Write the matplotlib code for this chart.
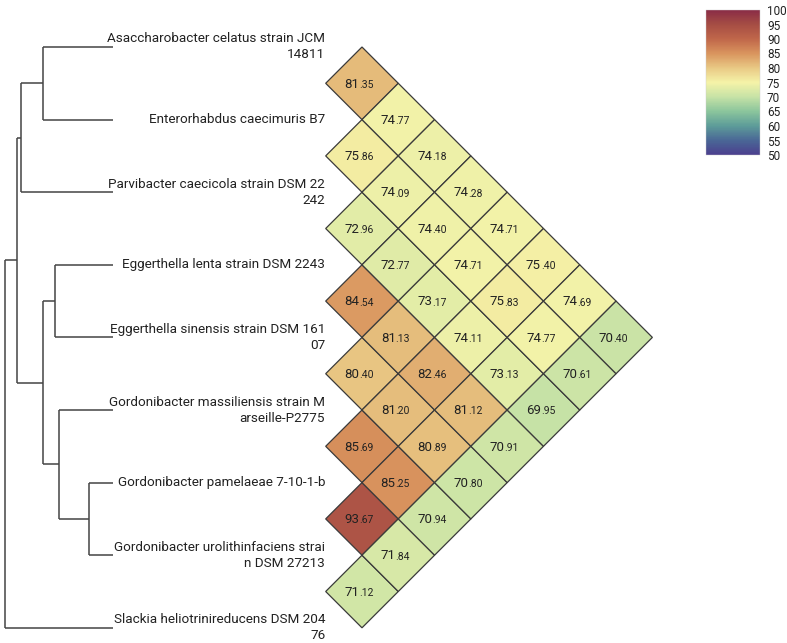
import numpy as np
import matplotlib
matplotlib.use('Agg')
import matplotlib.pyplot as plt
from matplotlib.patches import Polygon
from matplotlib.colors import LinearSegmentedColormap, Normalize
from matplotlib import colorbar

plt.rcParams['font.family'] = ['Roboto', 'DejaVu Sans']

### DATA ###
labels = ['Asaccharobacter celatus strain JCM\n14811',
          'Enterorhabdus caecimuris B7',
          'Parvibacter caecicola strain DSM 22\n242',
          'Eggerthella lenta strain DSM 2243',
          'Eggerthella sinensis strain DSM 161\n07',
          'Gordonibacter massiliensis strain M\narseille-P2775',
          'Gordonibacter pamelaeae 7-10-1-b',
          'Gordonibacter urolithinfaciens strai\nn DSM 27213',
          'Slackia heliotrinireducens DSM 204\n76']

# ANI values by diagonal offset: ani_diag[k][i] = ANI(leaf i, leaf i+k+1)
ani_diag = [
    [81.35, 75.86, 72.96, 84.54, 80.40, 85.69, 93.67, 71.12],
    [74.77, 74.09, 72.77, 81.13, 81.20, 85.25, 71.84],
    [74.18, 74.40, 73.17, 82.46, 80.89, 70.94],
    [74.28, 74.71, 74.11, 81.12, 70.80],
    [74.71, 75.83, 73.13, 70.91],
    [75.40, 74.77, 69.95],
    [74.69, 70.61],
    [70.40],
]

# dendrogram: internal nodes as (child_a, child_b, depth); leaves are 0..8, nodes 9..
leaf_depth = 1.556
tree_nodes = [
    (0, 1, 0.59),    # 9
    (9, 2, 0.29),    # 10
    (3, 4, 0.76),    # 11
    (6, 7, 1.23),    # 12
    (5, 12, 0.81),   # 13
    (11, 13, 0.59),  # 14
    (10, 14, 0.235), # 15
    (15, 8, 0.07),   # 16 root
]

cb_ticks = [100, 95, 90, 85, 80, 75, 70, 65, 60, 55, 50]
cmap_colors = ['#4B3F8E', '#4A6796', '#5D9C99', '#8BC59C', '#C6E2A6', '#F5F3A8',
               '#E9C985', '#D9955E', '#C0674A', '#A64E44', '#8A2C46']

cmap = LinearSegmentedColormap.from_list('ani', cmap_colors)
norm = Normalize(50, 100)

### FIGURE ###
W, H, unit = 787, 643, 72.6
y0 = 47
fig = plt.figure(figsize=(W / 100, H / 100), dpi=100)
ax = fig.add_axes([0, 0, 1, 1])
ax.set_xlim(0, W / unit)
ax.set_ylim((H - y0) / unit, -y0 / unit)
ax.axis('off')

# tree
n = len(labels)
ypos = {i: float(i) for i in range(n)}
xpos = {i: leaf_depth for i in range(n)}
for k, (a, b, d) in enumerate(tree_nodes):
    nid = n + k
    ypos[nid] = (ypos[a] + ypos[b]) / 2
    xpos[nid] = d
    ax.plot([d, d], [ypos[a], ypos[b]], color='#444444', lw=1.1, solid_capstyle='butt')
    for c in (a, b):
        ax.plot([d, xpos[c]], [ypos[c], ypos[c]], color='#444444', lw=1.1, solid_capstyle='butt')

label_x = 4.48
for i, lab in enumerate(labels):
    ax.text(label_x, i, lab, ha='right', va='center', fontsize=9.7, color='#222222',
            linespacing=1.3)

# heatmap diamonds
cx = 4.986
split = 0.035
for k, row in enumerate(ani_diag):
    for i, v in enumerate(row):
        j = i + k + 1
        xc = cx + k * 0.5
        yc = (i + j) / 2
        poly = Polygon([[xc - 0.5, yc], [xc, yc - 0.5], [xc + 0.5, yc], [xc, yc + 0.5]],
                       closed=True, facecolor=cmap(norm(v)), edgecolor='#3a3a3a', lw=0.9)
        ax.add_patch(poly)
        s = '%.2f' % v
        ip, dp = s.split('.')
        ax.text(xc - split, yc + 0.01, ip, ha='right', va='center', fontsize=9.5, color='#222222')
        ax.text(xc - split, yc + 0.02, '.' + dp, ha='left', va='center', fontsize=7.5, color='#222222')

# colorbar
cax = fig.add_axes([706 / W, 1 - 155 / H, 54 / W, 145 / H])
cb = colorbar.ColorbarBase(cax, cmap=cmap, norm=norm, orientation='vertical')
cb.set_ticks(cb_ticks)
cb.outline.set_linewidth(0.3)
cb.outline.set_edgecolor('#cccccc')
cax.tick_params(length=0, labelsize=8.5, pad=5, colors='#222222')

fig.savefig('out.png', dpi=100)
